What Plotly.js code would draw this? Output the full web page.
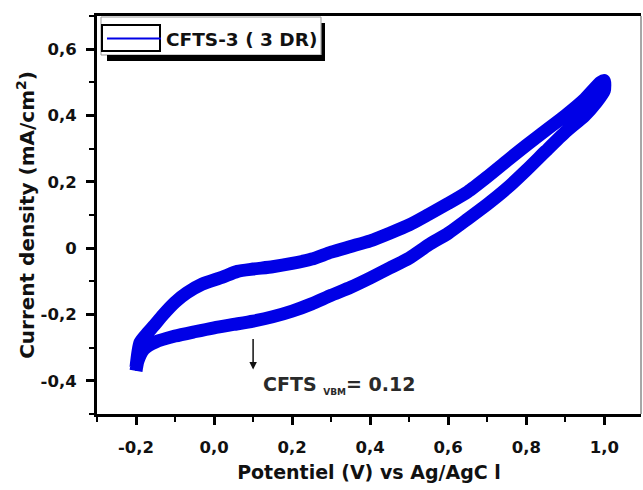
<!DOCTYPE html>
<html>
<head>
<meta charset="utf-8">
<script src="https://cdn.plot.ly/plotly-3.0.1.min.js"></script>
<style>html,body{margin:0;padding:0;background:#fff;}#chart{width:643px;height:490px;}</style>
</head>
<body>
<div id="chart"></div>
<script>
// Forward (anodic) sweep: potential (V vs Ag/AgCl) and current density (mA/cm2)
const potentialForward = [-0.20, -0.19, -0.17, -0.155, -0.13, -0.10, -0.07, -0.03, 0.02, 0.06, 0.10, 0.15, 0.20, 0.25, 0.30, 0.35, 0.40, 0.45, 0.50, 0.55, 0.60, 0.65, 0.70, 0.75, 0.80, 0.85, 0.90, 0.95, 0.99, 1.00];
const currentForward   = [-0.36, -0.285, -0.255, -0.235, -0.20, -0.163, -0.135, -0.108, -0.088, -0.07, -0.063, -0.056, -0.046, -0.033, -0.012, 0.005, 0.022, 0.045, 0.07, 0.102, 0.135, 0.17, 0.215, 0.263, 0.31, 0.355, 0.40, 0.45, 0.50, 0.505];
// Reverse (cathodic) sweep
const potentialReverse = [1.00, 0.98, 0.95, 0.90, 0.85, 0.80, 0.75, 0.70, 0.65, 0.60, 0.55, 0.50, 0.45, 0.40, 0.35, 0.30, 0.25, 0.20, 0.15, 0.10, 0.05, 0.00, -0.05, -0.10, -0.15, -0.18, -0.195, -0.20];
const currentReverse   = [0.475, 0.44, 0.40, 0.35, 0.293, 0.235, 0.18, 0.132, 0.088, 0.045, 0.01, -0.03, -0.06, -0.09, -0.118, -0.142, -0.168, -0.19, -0.207, -0.22, -0.23, -0.24, -0.252, -0.265, -0.283, -0.305, -0.34, -0.37];

const seriesName = 'CFTS-3 ( 3 DR)';
const xTickVals = [-0.2, 0.0, 0.2, 0.4, 0.6, 0.8, 1.0];
const xTickText = ['-0,2', '0,0', '0,2', '0,4', '0,6', '0,8', '1,0'];
const yTickVals = [-0.4, -0.2, 0, 0.2, 0.4, 0.6];
const yTickText = ['-0,4', '-0,2', '0', '0,2', '0,4', '0,6'];
const xTitle = 'Potentiel (V) vs Ag/AgC l';
const yTitle = 'Current density (mA/cm<sup>2</sup>)';
const vbmLabel = 'CFTS <sub><span style="font-size:9px">VBM</span></sub>= 0.12';
const vbmPotential = 0.10;

const loopX = potentialForward.concat(potentialReverse);
const loopY = currentForward.concat(currentReverse);

const BLUE = '#0000e6';
const FONT = 'DejaVu Sans, Verdana, sans-serif';

// plot-area geometry in page pixels (for decorations)
const L = 97, T = 16, W = 544, H = 398;
const px = v => (v - L) / W;
const py = v => (T + H - v) / H;

const traces = [
  {x: loopX, y: loopY, mode: 'lines', line: {color: BLUE, width: 13, shape: 'spline', smoothing: 0.6}, showlegend: false, hoverinfo: 'skip', name: seriesName},
  {x: loopX, y: loopY, mode: 'lines', line: {color: BLUE, width: 2, shape: 'spline', smoothing: 0.6}, showlegend: true, hoverinfo: 'skip', name: seriesName}
];

const tickFont = {family: FONT, size: 16.5, weight: 'bold', color: '#111'};
const titleFont = {family: FONT, size: 19, weight: 'bold', color: '#111'};

const layout = {
  width: 643, height: 490,
  margin: {l: L, r: 643 - L - W, t: T, b: 490 - T - H},
  paper_bgcolor: '#fff', plot_bgcolor: '#fff',
  showlegend: true,
  xaxis: {
    range: [-0.3, 1.094], tickmode: 'array', tickvals: xTickVals, ticktext: xTickText,
    ticks: 'outside', ticklen: 8, tickwidth: 3, tickcolor: '#000',
    showline: true, linewidth: 3, linecolor: '#000', mirror: true,
    showgrid: false, zeroline: false, tickfont: tickFont, ticklabelstandoff: 8,
    minor: {tickmode: 'linear', tick0: 0, dtick: 0.1, ticks: 'outside', ticklen: 5, tickwidth: 2, tickcolor: '#000'},
    title: {text: xTitle, font: titleFont, standoff: 10}
  },
  yaxis: {
    range: [-0.5, 0.7], tickmode: 'array', tickvals: yTickVals, ticktext: yTickText,
    ticks: 'outside', ticklen: 8, tickwidth: 3, tickcolor: '#000',
    showline: true, linewidth: 3, linecolor: '#000', mirror: false,
    showgrid: false, zeroline: false, tickfont: tickFont, ticklabelstandoff: 6,
    minor: {tickmode: 'linear', tick0: 0, dtick: 0.1, ticks: 'outside', ticklen: 5, tickwidth: 2, tickcolor: '#000'},
    title: {text: yTitle, font: {family: FONT, size: 20, weight: 'bold', color: '#111'}, standoff: 1}
  },
  legend: {
    x: px(102), y: py(20), xanchor: 'left', yanchor: 'top',
    bgcolor: 'rgba(0,0,0,0)', borderwidth: 0, itemwidth: 54,
    font: {family: FONT, size: 18.5, weight: 'bold', color: '#111'}
  },
  shapes: [
    {type: 'line', xref: 'paper', yref: 'paper', x0: 1, x1: 1, y0: 0, y1: 1, line: {color: '#8a8a8a', width: 1.5}},
    {type: 'rect', xref: 'paper', yref: 'paper', x0: px(101), x1: px(321), y0: py(55), y1: py(17), line: {color: '#999', width: 1}, fillcolor: 'rgba(0,0,0,0)', layer: 'above'},
    {type: 'rect', xref: 'paper', yref: 'paper', x0: px(107), x1: px(325), y0: py(61), y1: py(55), line: {width: 0}, fillcolor: '#000', layer: 'above'},
    {type: 'rect', xref: 'paper', yref: 'paper', x0: px(321.5), x1: px(325), y0: py(61), y1: py(23), line: {width: 0}, fillcolor: '#000', layer: 'above'},
    {type: 'rect', xref: 'paper', yref: 'paper', x0: px(102), x1: px(160), y0: py(51), y1: py(25), line: {color: '#000', width: 2}, fillcolor: 'rgba(0,0,0,0)', layer: 'above'}
  ],
  annotations: [
    {x: vbmPotential, y: -0.366, xref: 'x', yref: 'y', ax: 0, ay: -32, text: '', showarrow: true,
     arrowhead: 2, arrowsize: 1, arrowwidth: 1.5, arrowcolor: '#111'},
    {x: 0.119, y: -0.4115, xref: 'x', yref: 'y', xanchor: 'left', yanchor: 'middle', showarrow: false,
     text: vbmLabel, font: {family: FONT, size: 19, weight: 'bold', color: '#2a2a2a'}}
  ]
};

Plotly.newPlot('chart', traces, layout, {displayModeBar: false, staticPlot: true});
</script>
</body>
</html>
